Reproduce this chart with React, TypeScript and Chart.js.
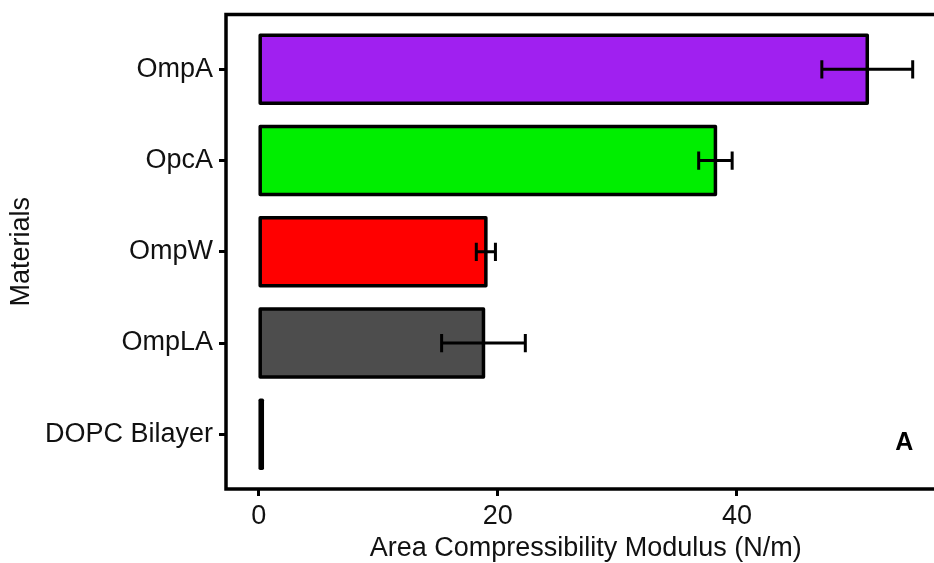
import React, { useEffect, useRef } from 'react';
import { Chart, registerables } from 'chart.js';

Chart.register(...registerables);

const categories = ['OmpA', 'OpcA', 'OmpW', 'OmpLA', 'DOPC Bilayer'];
const values = [50.9, 38.2, 19.0, 18.8, 0.3];
const errors = [3.8, 1.4, 0.8, 3.5, 0];
const colors = ['#A020F0', '#00EE00', '#FF0000', '#4D4D4D', '#000000'];
const xTicks = [0, 20, 40];
const xTitle = 'Area Compressibility Modulus (N/m)';
const yTitle = 'Materials';
const panelLabel = 'A';
const panelLabelPos = { x: 54, y: 4.1 };

const FONT = '"Liberation Sans", Arial, sans-serif';
const FS = 27;
const CAP = 0.2;

const overlay = {
  id: 'overlay',
  afterDatasetsDraw(chart: any) {
    const { ctx, chartArea: a, scales } = chart;
    const xs = scales.x;
    const ys = scales.y;
    const meta = chart.getDatasetMeta(0);
    ctx.save();
    ctx.strokeStyle = '#000';
    ctx.lineJoin = 'round';
    ctx.lineWidth = 3.5;
    meta.data.forEach((bar: any) => {
      const p = bar.getProps(['x', 'y', 'base', 'height'], true);
      ctx.strokeRect(p.base, p.y - p.height / 2, p.x - p.base, p.height);
    });
    ctx.lineWidth = 3;
    ctx.lineCap = 'butt';
    values.forEach((v, i) => {
      const e = errors[i];
      if (!e) return;
      const cy = ys.getPixelForValue(i);
      const x1 = xs.getPixelForValue(v - e);
      const x2 = xs.getPixelForValue(v + e);
      const hh = Math.abs(ys.getPixelForValue(i + CAP / 2) - ys.getPixelForValue(i - CAP / 2)) / 2;
      ctx.beginPath();
      ctx.moveTo(x1, cy);
      ctx.lineTo(x2, cy);
      ctx.moveTo(x1, cy - hh);
      ctx.lineTo(x1, cy + hh);
      ctx.moveTo(x2, cy - hh);
      ctx.lineTo(x2, cy + hh);
      ctx.stroke();
    });
    ctx.lineWidth = 3.5;
    ctx.lineJoin = 'miter';
    ctx.strokeRect(a.left, a.top, a.right - a.left, a.bottom - a.top);
    ctx.fillStyle = '#000';
    ctx.font = `bold 25px ${FONT}`;
    ctx.textAlign = 'center';
    ctx.textBaseline = 'middle';
    ctx.fillText(panelLabel, xs.getPixelForValue(panelLabelPos.x), ys.getPixelForValue(panelLabelPos.y));
    ctx.restore();
  },
};

export default function App() {
  const ref = useRef<HTMLCanvasElement | null>(null);
  useEffect(() => {
    if (!ref.current) return;
    const xMin = 0 - 0.05 * (values[0] + errors[0]);
    const xMax = values[0] + errors[0] + 0.05 * (values[0] + errors[0]);
    const chart = new Chart(ref.current, {
      type: 'bar',
      data: {
        datasets: [
          {
            data: values.map((v, i) => ({ x: v, y: i })),
            backgroundColor: colors,
            borderWidth: 0,
            barPercentage: 0.745,
            categoryPercentage: 1,
          },
        ],
      },
      options: {
        indexAxis: 'y',
        responsive: false,
        animation: false,
        events: [],
        layout: { padding: { left: 0, top: 14.5, right: 14.6, bottom: 0 } },
        plugins: { legend: { display: false }, tooltip: { enabled: false } },
        scales: {
          x: {
            type: 'linear',
            min: xMin,
            max: xMax,
            offset: false,
            afterBuildTicks: (s: any) => {
              s.ticks = xTicks.map((v) => ({ value: v }));
            },
            afterFit: (s: any) => {
              s.height = 74;
            },
            grid: { display: true, offset: false, drawOnChartArea: false, drawTicks: true, tickLength: 7, lineWidth: 3, color: '#000' },
            border: { display: false },
            ticks: { color: '#111', padding: 7, font: { family: FONT, size: FS, lineHeight: 1 } },
            title: { display: true, text: xTitle, color: '#111', padding: { top: 0, bottom: 0.5 }, font: { family: FONT, size: FS, lineHeight: 1 } },
          },
          y: {
            type: 'linear',
            reverse: true,
            offset: false,
            min: -0.6,
            max: categories.length - 1 + 0.6,
            afterBuildTicks: (s: any) => {
              s.ticks = categories.map((_, i) => ({ value: i }));
            },
            afterFit: (s: any) => {
              s.width = 226;
            },
            grid: { display: true, offset: false, drawOnChartArea: false, drawTicks: true, tickLength: 7, lineWidth: 3, color: '#000' },
            border: { display: false },
            ticks: {
              color: '#111',
              padding: 6,
              font: { family: FONT, size: FS, lineHeight: 0.4 },
              callback: (v: any) => categories[v] ?? '',
            },
            title: { display: true, text: yTitle, color: '#111', padding: { top: 8.5, bottom: 0 }, font: { family: FONT, size: FS, lineHeight: 1 } },
          },
        },
      },
      plugins: [overlay],
    } as any);
    return () => chart.destroy();
  }, []);
  return (
    <div style={{ position: 'absolute', left: 0, top: 0, width: 934, height: 563, overflow: 'hidden', background: '#fff' }}>
      <canvas ref={ref} width={960} height={563} />
    </div>
  );
}
